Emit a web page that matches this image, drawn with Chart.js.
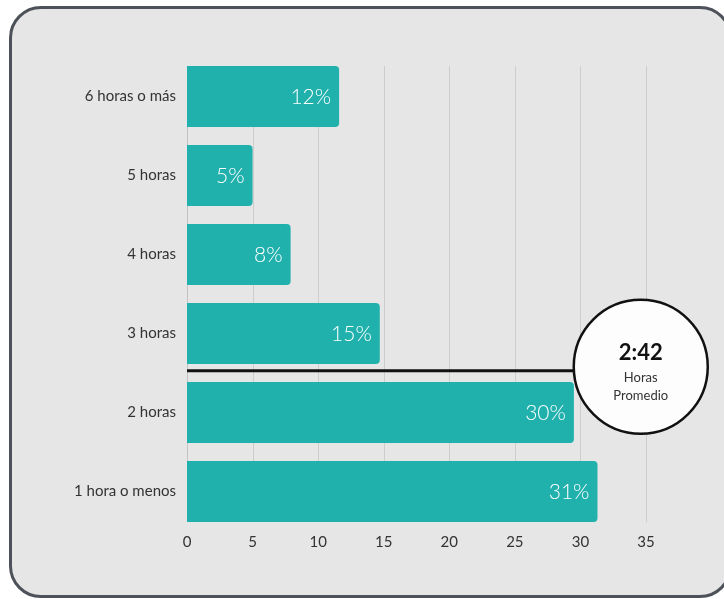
<!DOCTYPE html>
<html>
<head>
<meta charset="utf-8">
<script src="https://cdn.jsdelivr.net/npm/chart.js@4.4.1/dist/chart.umd.min.js"></script>
<style>
  html, body { margin: 0; padding: 0; background: #ffffff; overflow: hidden; }
  #frame {
    position: absolute; left: 9px; top: 6px; width: 723px; height: 592px;
    box-sizing: border-box; border: 3px solid #4d5159; border-radius: 32px;
    background: #e6e6e6;
  }
  #chart { position: absolute; left: 0; top: 0; }
</style>
</head>
<body>
<div id="frame"></div>
<canvas id="chart" width="724" height="599"></canvas>
<script>
// ── Data ───────────────────────────────────────────────
const categories = ['6 horas o más', '5 horas', '4 horas', '3 horas', '2 horas', '1 hora o menos'];
const values = [11.6, 5.0, 7.9, 14.7, 29.5, 31.3];
const valueLabels = ['12%', '5%', '8%', '15%', '30%', '31%'];
const xTicks = [0, 5, 10, 15, 20, 25, 30, 35];

// average marker (line between "3 horas" and "2 horas" + badge)
const averageText = ['2:42', 'Horas', 'Promedio'];
const averageLineIndex = 3.47;
const badgeX = 34.6;
const badgeIndex = 3.42;

const FONT = 'Lato, "Noto Sans", sans-serif';
const TEAL = '#20b1ad';

// ── Gridlines only across the bars ────────────────────
const gridPlugin = {
    id: 'barGrid',
    beforeDatasetsDraw(chart) {
        const { ctx, scales: { x } } = chart;
        const bars = chart.getDatasetMeta(0).data;
        const top = bars[0].y - bars[0].height / 2;
        const last = bars[bars.length - 1];
        const bottom = last.y + last.height / 2;
        ctx.save();
        ctx.lineWidth = 1;
        xTicks.forEach(v => {
            const px = Math.round(x.getPixelForValue(v)) + 0.5;
            ctx.strokeStyle = v === 0 ? '#c2c2c2' : '#cdcdcd';
            ctx.beginPath();
            ctx.moveTo(px, top);
            ctx.lineTo(px, bottom);
            ctx.stroke();
        });
        ctx.restore();
    }
};

// ── Value labels, average line and badge ──────────────
const overlayPlugin = {
    id: 'overlay',
    afterDatasetsDraw(chart) {
        const { ctx, scales: { x, y } } = chart;
        const bars = chart.getDatasetMeta(0).data;
        ctx.save();
        ctx.fillStyle = '#ffffff';
        ctx.font = '300 21px ' + FONT;
        ctx.textAlign = 'right';
        ctx.textBaseline = 'middle';
        bars.forEach((bar, i) => {
            ctx.fillText(valueLabels[i], bar.x - 8, bar.y + 1);
        });

        const cx = x.getPixelForValue(badgeX);
        const cy = y.getPixelForValue(badgeIndex);
        const r = 67;

        // average line
        const ly = y.getPixelForValue(averageLineIndex);
        ctx.strokeStyle = '#111111';
        ctx.lineWidth = 3;
        ctx.beginPath();
        ctx.moveTo(x.getPixelForValue(0), ly);
        ctx.lineTo(cx - r + 2, ly);
        ctx.stroke();

        // badge
        ctx.beginPath();
        ctx.arc(cx, cy, r, 0, Math.PI * 2);
        ctx.fillStyle = '#fdfdfd';
        ctx.fill();
        ctx.lineWidth = 2.5;
        ctx.strokeStyle = '#111111';
        ctx.stroke();

        ctx.textAlign = 'center';
        ctx.fillStyle = '#111111';
        ctx.font = 'bold 22px ' + FONT;
        ctx.fillText(averageText[0], cx, cy - 14);
        ctx.fillStyle = '#333333';
        ctx.font = '13px ' + FONT;
        ctx.fillText(averageText[1], cx, cy + 11);
        ctx.fillText(averageText[2], cx, cy + 29);
        ctx.restore();
    }
};

new Chart(document.getElementById('chart'), {
    type: 'bar',
    data: {
        labels: categories,
        datasets: [{
            data: values,
            backgroundColor: TEAL,
            borderRadius: 4,
            borderSkipped: 'start',
            barPercentage: 0.86,
            categoryPercentage: 0.9
        }]
    },
    options: {
        indexAxis: 'y',
        responsive: false,
        animation: false,
        layout: { padding: { top: 57, right: 78, bottom: 28, left: 0 } },
        plugins: {
            legend: { display: false },
            tooltip: { enabled: false }
        },
        scales: {
            x: {
                min: 0,
                max: 35,
                afterBuildTicks: s => { s.ticks = xTicks.map(v => ({ value: v })); },
                afterFit: s => { s.height = 40; },
                grid: { display: false, drawTicks: false },
                border: { display: false },
                ticks: {
                    padding: 2,
                    color: '#333333',
                    font: { family: FONT, size: 15 }
                }
            },
            y: {
                afterFit: s => { s.width = 187; },
                grid: { display: false, drawTicks: false },
                border: { display: false },
                ticks: {
                    padding: 11,
                    color: '#333333',
                    font: { family: FONT, size: 15 }
                }
            }
        }
    },
    plugins: [gridPlugin, overlayPlugin]
});
</script>
</body>
</html>
